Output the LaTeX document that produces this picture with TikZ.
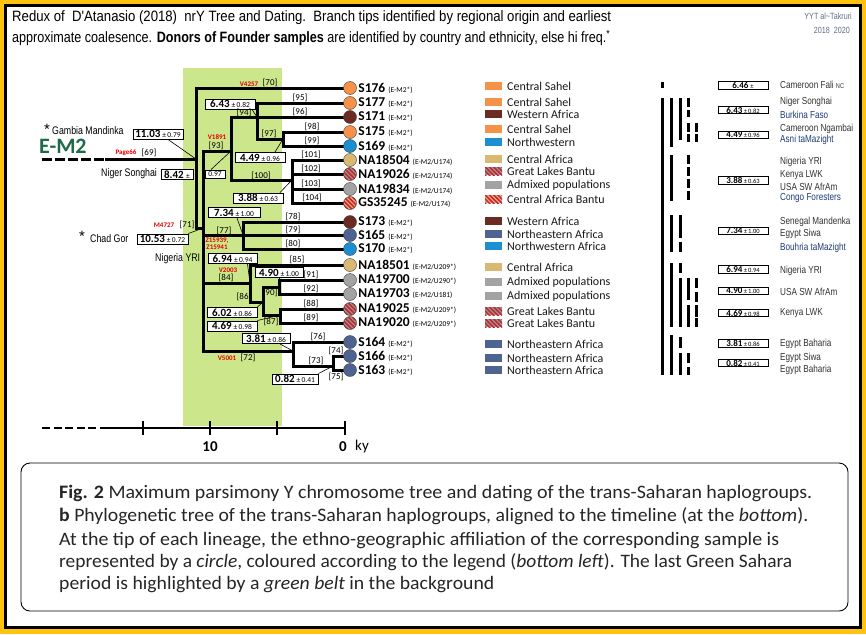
\documentclass[tikz,border=0pt]{standalone}
\usepackage{fontspec}
\usepackage{graphicx}
\setmainfont{Carlito}
\newfontfamily\arialf{Liberation Sans}
\usetikzlibrary{positioning}
\pgfdeclarelayer{bg}
\pgfsetlayers{bg,main}
\definecolor{goldframe}{HTML}{FFC20E}
\definecolor{greenbelt}{HTML}{CBE68B}
\definecolor{emgreen}{HTML}{1E6B47}
\definecolor{sahel}{HTML}{F4924A}
\definecolor{western}{HTML}{6B2B22}
\definecolor{nwest}{HTML}{1B8FD1}
\definecolor{central}{HTML}{D8B872}
\definecolor{admixed}{HTML}{A3A3A3}
\definecolor{neast}{HTML}{4F6390}
\definecolor{glbase}{HTML}{8FA088}
\definecolor{stripered}{HTML}{C8243A}
\definecolor{cabase}{HTML}{EDB36E}
\definecolor{navytext}{HTML}{1F3D78}
\definecolor{credit}{HTML}{5E6E88}
\newcommand{\nrw}[1]{\scalebox{0.8}[1]{#1}}
\newcommand{\fitw}[2]{\resizebox{#1}{\height}{#2}}
\newcommand{\kyr}[2]{\textbf{#1}\,{\fontsize{7.5}{8}\selectfont\mdseries ±\,#2}}
\newcommand{\kyrs}[2]{\textbf{#1}\,{\fontsize{6.5}{7}\selectfont\mdseries ±\,#2}}

\begin{document}
\begin{tikzpicture}[x=1pt, y=-1pt,
    branch/.style={line width=3pt, line cap=rect},
    leader/.style={line width=0.6pt},
    tip/.style={circle, draw=black!75, line width=0.4pt, minimum size=13pt, inner sep=0pt},
    stripes/.style={path picture={\foreach \q in {-5,...,5}
        \draw[#1, line width=1.5pt] ([xshift=\q*4.2pt-10pt, yshift=10pt]path picture bounding box.center) -- ++(20pt,-20pt);}},
    csahel/.style={fill=sahel},
    cwestern/.style={fill=western},
    cnwest/.style={fill=nwest},
    ccentral/.style={fill=central},
    cadmixed/.style={fill=admixed},
    cneast/.style={fill=neast},
    cglb/.style={fill=glbase, stripes=stripered},
    ccab/.style={fill=cabase, stripes=stripered},
    samp/.style={inner sep=0pt, font=\bfseries\fontsize{13.5}{14}\selectfont},
    datebox/.style={draw, line width=0.9pt, fill=white, inner sep=0pt, minimum height=10pt, font=\fontsize{11}{11}\selectfont},
    rbox/.style={draw, line width=0.9pt, fill=white, inner sep=0pt, minimum width=50pt, minimum height=7.5pt, font=\fontsize{9}{9}\selectfont},
    brlab/.style={inner sep=0pt, text=black, font=\fontsize{9}{9}\selectfont},
    snp/.style={inner sep=0pt, text=red!90!black, font=\bfseries\fontsize{7}{7}\selectfont},
    place/.style={inner sep=0pt, anchor=west, font=\arialf\fontsize{11}{12}\selectfont},
    origin/.style={inner sep=0pt, anchor=west, font=\arialf\fontsize{10.2}{11}\selectfont, text=black!80},
    legtxt/.style={inner sep=0pt, anchor=west, font=\fontsize{12}{12}\selectfont, text=black!90},
    swatch/.style={minimum width=17pt, minimum height=8pt, inner sep=0pt},
    bar/.style={line width=3pt},
    captxt/.style={inner sep=0pt, anchor=base west, text=black!85, font=\fontsize{19}{20}\selectfont}
]
\useasboundingbox (0,0) rectangle (866,634);

% Header
\node[inner sep=0pt, anchor=base west, font=\arialf\fontsize{15}{16}\selectfont] (head1) at (12,22)
  {\fitw{599pt}{Redux of\ \ D'Atanasio (2018)\ \ nrY Tree and Dating.\ \ Branch tips identified by regional origin and earliest}};
\node[inner sep=0pt, anchor=base west, font=\arialf\fontsize{15}{16}\selectfont] (head2) at (12,43)
  {\fitw{598pt}{approximate coalesence. \textbf{Donors of Founder samples} are identified by country and ethnicity, else hi freq.\textsuperscript{*}}};
\node[inner sep=0pt, anchor=east, text=credit, font=\arialf\fontsize{9}{10}\selectfont] (credit1) at (852,16) {\nrw{YYT al\textasciitilde Takruri}};
\node[inner sep=0pt, anchor=east, text=credit, font=\arialf\fontsize{9}{10}\selectfont] (credit2) at (850,30) {\nrw{2018\ \ 2020}};

% Tips
\foreach \n/\y/\c/\t/\s in {s176/88/csahel/S176/{E-M2*}, s177/103/csahel/S177/{E-M2*},
    s171/117/cwestern/S171/{E-M2*}, s175/132/csahel/S175/{E-M2*}, s169/146/cnwest/S169/{E-M2*},
    na18504/160/ccentral/NA18504/{E-M2/U174}, na19026/174/cglb/NA19026/{E-M2/U174},
    na19834/189/cadmixed/NA19834/{E-M2/U174}, gs35245/203/ccab/GS35245/{E-M2/U174},
    s173/222/cwestern/S173/{E-M2*}, s165/235/cneast/S165/{E-M2*}, s170/249/cnwest/S170/{E-M2*},
    na18501/265/ccentral/NA18501/{E-M2/U209*}, na19700/280/cadmixed/NA19700/{E-M2/U290*},
    na19703/294/cadmixed/NA19703/{E-M2/U181}, na19025/309/cglb/NA19025/{E-M2/U209*},
    na19020/323/cglb/NA19020/{E-M2/U209*}, s164/342/cneast/S164/{E-M2*},
    s166/356/cneast/S166/{E-M2*}, s163/370/cneast/S163/{E-M2*}} {
  \node[tip, \c] (\n) at (350,\y) {};
  \node[samp, right=1.5pt of \n] (\n-lab) {\t\ {\fontsize{7.5}{8}\selectfont\mdseries(\s)}};
}

% Internal nodes
\coordinate (rootend) at (42,159);
\coordinate (nR) at (196,159);
\coordinate (n71) at (203,228);
\coordinate (n93) at (231,151);
\coordinate (n94) at (257,117);
\coordinate (n97) at (283,139);
\coordinate (n100) at (292,180);
\coordinate (n77) at (243,235);
\coordinate (n84) at (250,283);
\coordinate (n86) at (263,302);
\coordinate (n90) at (279,287);
\coordinate (n87) at (280,315);
\coordinate (n72) at (293,351);
\coordinate (n73) at (333,366);

% Date boxes
\node[datebox, minimum width=50pt] (b1103) at (158,134) {\kyr{11.03}{0.79}};
\node[datebox, minimum width=32pt] (b842) at (177,174.5) {\textbf{8.42} {\fontsize{7.5}{8}\selectfont±}};
\node[datebox, minimum width=20pt, minimum height=8pt] (b097) at (215,174) {\fontsize{7.5}{8}\selectfont 0.97};
\node[datebox, minimum width=51pt] (b1053) at (162.5,239) {\kyr{10.53}{0.72}};
\node[datebox, minimum width=50pt] (b643) at (230,104) {\kyr{6.43}{0.82}};
\node[datebox, minimum width=50pt] (b449) at (260,157.5) {\kyr{4.49}{0.96}};
\node[datebox, minimum width=50pt] (b388) at (258,198) {\kyr{3.88}{0.63}};
\node[datebox, minimum width=52pt] (b734) at (234,212.5) {\kyr{7.34}{1.00}};
\node[datebox, minimum width=49pt] (b694) at (232.5,258.5) {\kyr{6.94}{0.94}};
\node[datebox, minimum width=48pt] (b490) at (279,272.5) {\kyr{4.90}{1.00}};
\node[datebox, minimum width=50pt] (b602) at (232,312.5) {\kyr{6.02}{0.86}};
\node[datebox, minimum width=50pt] (b469) at (232,326) {\kyr{4.69}{0.98}};
\node[datebox, minimum width=48pt] (b381) at (266,338.5) {\kyr{3.81}{0.86}};
\node[datebox, minimum width=46pt] (b082) at (295,379) {\kyr{0.82}{0.41}};

% Branch labels
\foreach \x/\y/\t in {149/153/69, 270/83/70, 187/225/71, 216/146/93, 244/112.5/94, 300/98/95, 300/112/96,
    269/134/97, 312/127/98, 312/141/99, 261/176/100, 311/155/101, 311/169/102, 311/184/103, 312/198/104,
    224/231/77, 293/217/78, 293/230/79, 293/244/80, 226/278/84, 297/260/85, 311/275/91, 311/289/92,
    270/293/90, 244/297/86, 271/322/87, 311/304/88, 311/318/89, 248/358/72, 318/337/76, 316/361/73,
    336/351/74, 336/377/75}
  \node[brlab] (lab\t) at (\x,\y) {[\t]};
\foreach \x/\y/\t in {126/153/Page66, 249/84/V4257, 164/225/M4727, 217/137/V1891,
    217/241/{Z15939,}, 217/247/Z15941, 228/270/V2003, 227/358/V5001}
  \node[snp] at (\x,\y) {\t};

% Left annotations
\node[font=\arialf\fontsize{15}{15}\selectfont, inner sep=0pt] (star1) at (47,129) {*};
\node[place] (gambia) at (52,131) {\nrw{Gambia Mandinka}};
\node[inner sep=0pt, anchor=west, text=emgreen, font=\bfseries\fontsize{22}{22}\selectfont] (em2) at (39,146) {E-M2};
\node[place] (niger) at (101,174) {\nrw{Niger Songhai}};
\node[font=\arialf\fontsize{15}{15}\selectfont, inner sep=0pt] (star2) at (82,236) {*};
\node[place] (chad) at (90,239) {\nrw{Chad Gor}};
\node[place] (yri) at (155,259) {\nrw{Nigeria YRI}};

% Legend
\foreach \y/\c/\t in {86/csahel/Central Sahel, 102/csahel/Central Sahel, 114/cwestern/Western Africa,
    129/csahel/Central Sahel, 142/cnwest/Northwestern, 159/ccentral/Central Africa,
    171/cglb/Great Lakes Bantu, 185/cadmixed/Admixed populations, 199/ccab/Central Africa Bantu,
    221/cwestern/Western Africa, 234/cneast/Northeastern Africa, 246/cnwest/Northwestern Africa,
    267/ccentral/Central Africa, 282/cadmixed/Admixed populations, 296/cadmixed/Admixed populations,
    311/cglb/Great Lakes Bantu, 323/cglb/Great Lakes Bantu, 344/cneast/Northeastern Africa,
    358/cneast/Northeastern Africa, 370/cneast/Northeastern Africa} {
  \node[swatch, \c] (sw\y) at (493.5,\y) {};
  \node[legtxt] at (507,\y) {\t};
}

% Right column: dates and donors
\foreach \y/\a/\b in {110/6.43/0.82, 135/4.49/0.96, 180.5/3.88/0.63, 231/7.34/1.00, 269.5/6.94/0.94,
    291/4.90/1.00, 313/4.69/0.98, 343.5/3.81/0.86, 363/0.82/0.41}
  \node[rbox] (r\a) at (743,\y) {\kyrs{\a}{\b}};
\node[rbox] (r6.46) at (743,85.5) {\textbf{6.46} {\fontsize{6.5}{7}\selectfont±}};
\foreach \y/\t in {85/{Cameroon Fali {\fontsize{7}{7}\selectfont NC}}, 102/Niger Songhai, 129/Cameroon Ngambai,
    162/Nigeria YRI, 175/Kenya LWK, 187/USA SW AfrAm, 222/Senegal Mandenka, 234/Egypt Siwa,
    271/Nigeria YRI, 292/USA SW AfrAm, 313/Kenya LWK, 344/Egypt Baharia, 358/Egypt Siwa, 370/Egypt Baharia}
  \node[origin] at (780,\y) {\nrw{\t}};
\foreach \y/\t in {115/Burkina Faso, 140/Asni taMazight, 198/Congo Foresters, 248/Bouhria taMazight}
  \node[origin, text=navytext] at (780,\y) {\nrw{\t}};

% Timeline
\coordinate (tl0) at (42,428);
\coordinate (tl1) at (108,428);
\coordinate (tl2) at (345,428);
\node[inner sep=0pt, font=\bfseries\fontsize{15}{15}\selectfont] (t10) at (210,447) {10};
\node[inner sep=0pt, font=\bfseries\fontsize{15}{15}\selectfont] (t0) at (343,447) {0};
\node[inner sep=0pt, font=\fontsize{15}{15}\selectfont] (tky) at (362,446) {ky};

% Caption
\node[draw, line width=0.9pt, rounded corners=9pt, minimum width=827pt, minimum height=148pt] (capframe) at (434.5,537) {};
\node[captxt] (cap1) at (59,498) {\fitw{753pt}{\textbf{Fig. 2} Maximum parsimony Y chromosome tree and dating of the trans-Saharan haplogroups.}};
\node[captxt] (cap2) at (59,521) {\fitw{749pt}{\textbf{b} Phylogenetic tree of the trans-Saharan haplogroups, aligned to the timeline (at the \textit{bottom}).}};
\node[captxt] (cap3) at (59,545) {\fitw{720pt}{At the tip of each lineage, the ethno-geographic affiliation of the corresponding sample is}};
\node[captxt] (cap4) at (59,567) {\fitw{733pt}{represented by a \textit{circle}, coloured according to the legend (\textit{bottom left}). The last Green Sahara}};
\node[captxt] (cap5) at (59,589) {\fitw{435pt}{period is highlighted by a \textit{green belt} in the background}};

\begin{pgfonlayer}{bg}
% Frame and belt
\fill[goldframe] (0,0) rectangle (866,634);
\draw[line width=3pt, fill=white] (5.5,5.5) rectangle (860.5,627);
\fill[greenbelt] (183,68) rectangle (282,426);

% Tree
\draw[branch, line cap=butt, dash pattern=on 10pt off 3pt] (rootend) -- (106,159);
\draw[branch] (106,159) -- (nR);
\draw[branch] (nR |- s176) -- (nR |- n71) -- (n71);
\draw[branch] (n71 |- n93) -- (n71 |- n72);
\draw[branch] (n71 |- n93) -- (n93);
\draw[branch] (n93 |- s171) -- (n93 |- n100) -- (n100);
\draw[branch] (n94 |- s177) -- (n94 |- n97) -- (n97);
\draw[branch] (n97 |- s175) -- (n97 |- s169);
\draw[branch] (n100 |- na18504) -- (n100 |- gs35245);
\draw[branch] (n77 |- s173) -- (n77 |- s170);
\draw[branch] (n71 |- n84) -- (n84);
\draw[branch] (n84 |- na18501) -- (n84 |- n86) -- (n86);
\draw[branch] (n86 |- n90) -- (n86 |- n87) -- (n87);
\draw[branch] (n86 |- n90) -- (n90);
\draw[branch] (n90 |- na19700) -- (n90 |- na19703);
\draw[branch] (n87 |- na19025) -- (n87 |- na19020);
\draw[branch] (n71 |- n72) -- (n72);
\draw[branch] (n72 |- s164) -- (n72 |- n73) -- (n73);
\draw[branch] (n73 |- s166) -- (n73 |- s163);
\foreach \i/\j in {nR/s176, n94/s177, n93/s171, n97/s175, n97/s169, n100/na18504, n100/na19026,
    n100/na19834, n100/gs35245, n77/s173, n71/s165, n77/s170, n84/na18501, n90/na19700,
    n90/na19703, n87/na19025, n87/na19020, n72/s164, n73/s166, n73/s163} {
  \draw[branch] (\i |- \j) -- (\j);
}

% Leaders
\draw[leader] ([xshift=10pt]b1103.south) -- (nR);
\draw[leader] ([xshift=-4pt]b097.north) -- (n93);
\draw[leader] (b1053.north east) -- (n71);
\draw[leader] ([xshift=22pt]b643.south) -- (n94);
\draw[leader] ([xshift=15pt]b449.north) -- (n97);
\draw[leader] ([xshift=22pt]b388.north) -- (n100);
\draw[leader] ([xshift=3pt]b734.south) -- (n77);
\draw[leader] ([xshift=15pt]b694.south) -- (n84);
\draw[leader] (b490.south) -- (n90);
\draw[leader] (b602.north east) -- (n86);
\draw[leader] (b469.north east) -- (n87);
\draw[leader] ([xshift=14pt]b381.south) -- (n72);
\draw[leader] (b082.north east) -- (n73);

% Timeline
\draw[line width=2.5pt, dash pattern=on 8pt off 3.5pt] (tl0) -- (tl1);
\draw[line width=2.5pt] (tl1) -- (tl2);
\foreach \x in {143,210,277,345}
  \draw[line width=2pt] (\x,421) -- (\x,435);

% Donor bars
\foreach \x/\a/\b in {662/82/88, 662/98/375,
    671/98/147, 671/155/201, 671/215/252, 671/263/327, 671/335/375,
    680/98/140, 680/215/238, 680/242/252, 680/263/273, 680/278/327, 680/337/348, 680/353/375,
    688/98/107, 688/110/117, 688/123/132, 688/134/142, 688/155/164, 688/167/176, 688/179/188,
    688/191/200, 688/278/300, 688/305/327, 688/353/363, 688/367/375,
    696/123/132, 696/134/142, 696/278/288, 696/292/302, 696/305/317, 696/318/327}
  \draw[bar] (\x,\a) -- (\x,\b);
\end{pgfonlayer}

\end{tikzpicture}
\end{document}
